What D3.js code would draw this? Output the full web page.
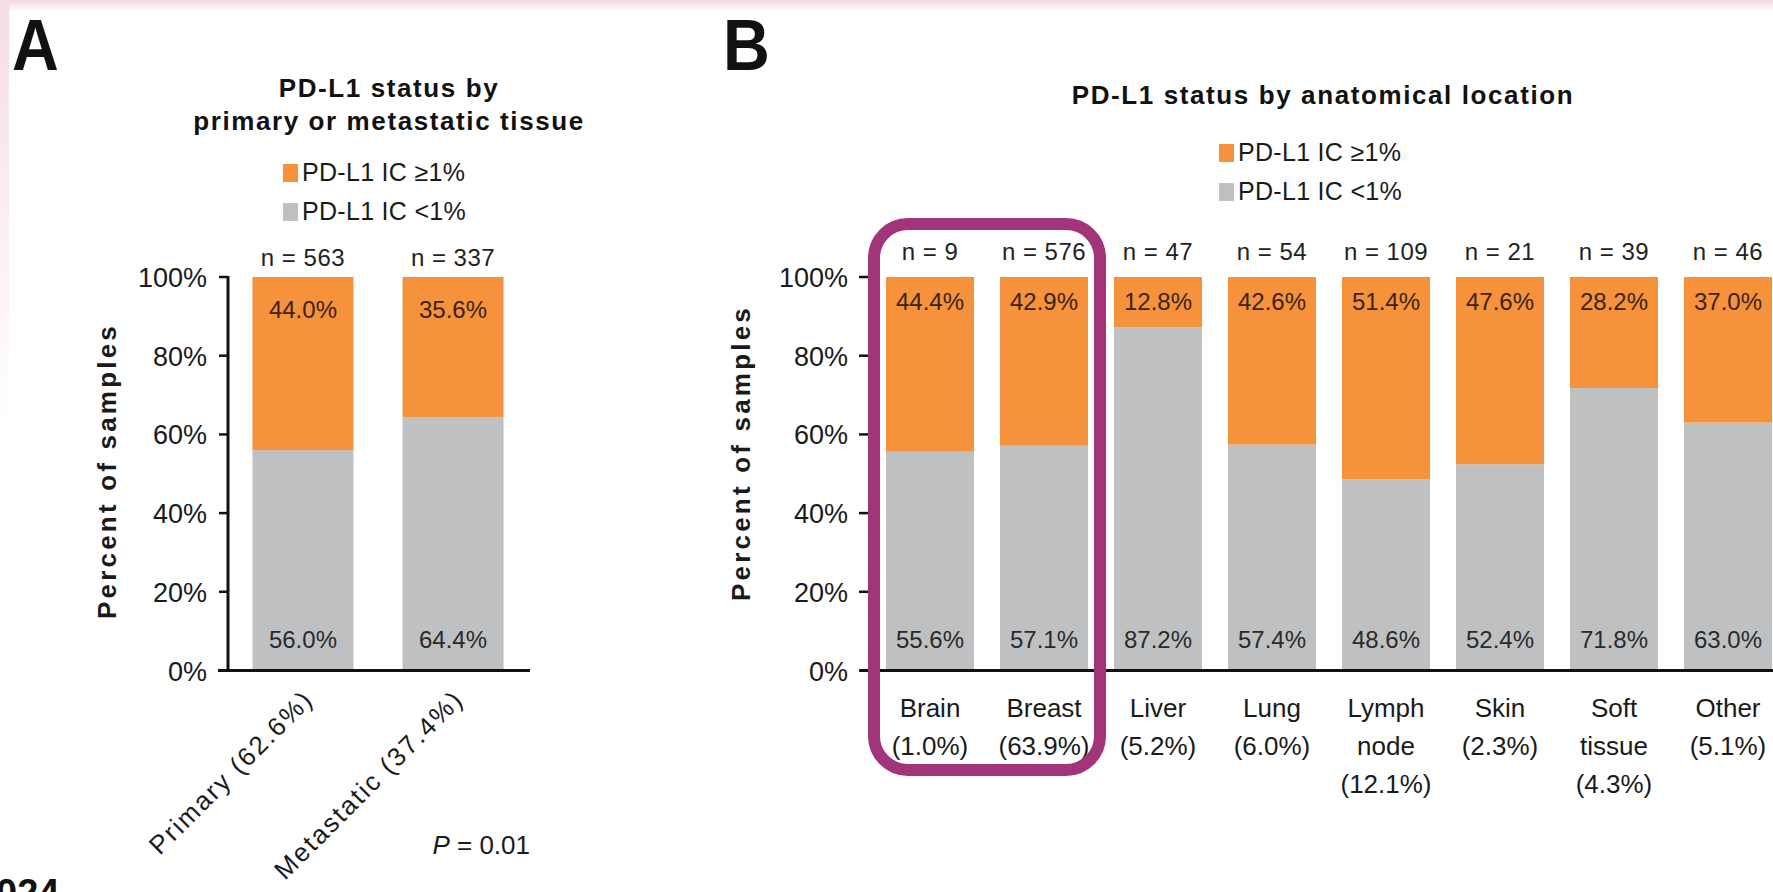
<!DOCTYPE html>
<html>
<head>
<meta charset="utf-8">
<script src="https://cdn.jsdelivr.net/npm/d3@7"></script>
<style>
  body { margin: 0; background: #fff; overflow: hidden; }
  text { font-family: "Liberation Sans", Arial, sans-serif; }
</style>
</head>
<body>
<div id="chart"></div>
<script>
// panel A: primary vs metastatic
var tissueLabels = ["Primary (62.6%)", "Metastatic (37.4%)"];
var tissueN = [563, 337];
var tissuePos = [44.0, 35.6];
var tissueNeg = [56.0, 64.4];

// panel B: anatomical location
var siteLabels = [["Brain", "(1.0%)"], ["Breast", "(63.9%)"], ["Liver", "(5.2%)"], ["Lung", "(6.0%)"],
  ["Lymph", "node", "(12.1%)"], ["Skin", "(2.3%)"], ["Soft", "tissue", "(4.3%)"], ["Other", "(5.1%)"]];
var siteN = [9, 576, 47, 54, 109, 21, 39, 46];
var sitePos = [44.4, 42.9, 12.8, 42.6, 51.4, 47.6, 28.2, 37.0];
var siteNeg = [55.6, 57.1, 87.2, 57.4, 48.6, 52.4, 71.8, 63.0];

var yTicks = [0, 20, 40, 60, 80, 100];
var legendLabels = ["PD-L1 IC \u22651%", "PD-L1 IC <1%"];

var width = 1773, height = 892;
var orange = "#f5923b", grey = "#bfc0c2";

var svg = d3.select("#chart").append("svg")
  .attr("width", width)
  .attr("height", height);

// faint pink frame like the scanned slide
var defs = svg.append("defs");
var gTop = defs.append("linearGradient").attr("id", "topfade").attr("x1", 0).attr("y1", 0).attr("x2", 0).attr("y2", 1);
gTop.append("stop").attr("offset", "0%").attr("stop-color", "#f3d6df");
gTop.append("stop").attr("offset", "100%").attr("stop-color", "#fff");
var gLeft = defs.append("linearGradient").attr("id", "leftfade").attr("x1", 0).attr("y1", 0).attr("x2", 0).attr("y2", 1);
gLeft.append("stop").attr("offset", "0%").attr("stop-color", "#f5dde5");
gLeft.append("stop").attr("offset", "100%").attr("stop-color", "#fff");
svg.append("rect").attr("x", 0).attr("y", 0).attr("width", width).attr("height", 12).attr("fill", "url(#topfade)");
svg.append("rect").attr("x", 0).attr("y", 0).attr("width", 9).attr("height", 420).attr("fill", "url(#leftfade)");

var y = d3.scaleLinear().domain([0, 100]).range([670.5, 277]);

function drawBars(g, x, names, pos, neg, n, opt) {
  var rows = names.map(function(d, i) { return {key: i, neg: neg[i], pos: pos[i]}; });
  var series = d3.stack().keys(["neg", "pos"])(rows);

  g.selectAll("g.layer").data(series).enter().append("g")
    .attr("class", "layer")
    .attr("fill", function(d) { return d.key == "pos" ? orange : grey; })
    .selectAll("rect").data(function(d) { return d; }).enter().append("rect")
      .attr("x", function(d) { return x(d.data.key); })
      .attr("y", function(d) { return y(d[1]); })
      .attr("width", x.bandwidth())
      .attr("height", function(d) { return y(d[0]) - y(d[1]); });

  var cx = function(i) { return x(i) + x.bandwidth() / 2; };

  // n = labels
  g.selectAll("text.n").data(n).enter().append("text")
    .attr("x", function(d, i) { return cx(i); })
    .attr("y", opt.nY)
    .attr("text-anchor", "middle")
    .attr("font-size", 24)
    .attr("letter-spacing", 0.5)
    .attr("fill", "#222")
    .text(function(d) { return "n = " + d; });

  g.selectAll("text.pos").data(pos).enter().append("text")
    .attr("x", function(d, i) { return cx(i); })
    .attr("y", opt.posY)
    .attr("text-anchor", "middle")
    .attr("font-size", 24)
    .attr("fill", "#3a2414")
    .text(function(d) { return d.toFixed(1) + "%"; });

  g.selectAll("text.neg").data(neg).enter().append("text")
    .attr("x", function(d, i) { return cx(i); })
    .attr("y", 648)
    .attr("text-anchor", "middle")
    .attr("font-size", 24)
    .attr("fill", "#2a2a2a")
    .text(function(d) { return d.toFixed(1) + "%"; });
}

function drawYAxis(g, axisX, labelRight, showLine) {
  g.selectAll("line.tick").data(yTicks).enter().append("line")
    .attr("x1", axisX - 9).attr("x2", axisX)
    .attr("y1", function(d) { return y(d); })
    .attr("y2", function(d) { return y(d); })
    .attr("stroke", "#111").attr("stroke-width", 2.5);
  g.selectAll("text.tick").data(yTicks).enter().append("text")
    .attr("x", labelRight)
    .attr("y", function(d) { return y(d) + 10; })
    .attr("text-anchor", "end")
    .attr("font-size", 27)
    .attr("fill", "#1a1a1a")
    .text(function(d) { return d + "%"; });
  if (showLine) {
    g.append("line")
      .attr("x1", axisX).attr("x2", axisX)
      .attr("y1", y(100) - 1).attr("y2", y(0))
      .attr("stroke", "#111").attr("stroke-width", 3);
  }
}

function drawLegend(g, lx, ly) {
  var colorsL = [orange, grey];
  legendLabels.forEach(function(lbl, i) {
    g.append("rect")
      .attr("x", lx).attr("y", ly + i * 39 - 17)
      .attr("width", 15).attr("height", 18)
      .attr("fill", colorsL[i]);
    g.append("text")
      .attr("x", lx + 19).attr("y", ly + i * 39)
      .attr("font-size", 25)
      .attr("letter-spacing", 0.3)
      .attr("fill", "#1a1a1a")
      .text(lbl);
  });
}

function yTitle(g, tx, ty) {
  g.append("text")
    .attr("transform", "translate(" + tx + "," + ty + ") rotate(-90)")
    .attr("text-anchor", "middle")
    .attr("font-size", 26)
    .attr("font-weight", "bold")
    .attr("letter-spacing", 3.2)
    .attr("fill", "#1a1a1a")
    .text("Percent of samples");
}

// ---------- panel A ----------
var gA = svg.append("g");
gA.append("text").attr("x", 12 / 0.9).attr("y", 70)
  .attr("font-size", 72).attr("font-weight", "bold").attr("fill", "#111")
  .attr("transform", "scale(0.9,1)")
  .text("A");

gA.append("text").attr("x", 389).attr("y", 97)
  .attr("text-anchor", "middle").attr("font-size", 26).attr("font-weight", "bold")
  .attr("letter-spacing", 1.6).attr("fill", "#111")
  .text("PD-L1 status by");
gA.append("text").attr("x", 389).attr("y", 130)
  .attr("text-anchor", "middle").attr("font-size", 26).attr("font-weight", "bold")
  .attr("letter-spacing", 1.6).attr("fill", "#111")
  .text("primary or metastatic tissue");

drawLegend(gA, 283, 181);

var xA = d3.scaleBand().domain(d3.range(tissueLabels.length))
  .range([228, 528]).paddingInner(0.327).paddingOuter(0.163);

drawBars(gA, xA, tissueLabels, tissuePos, tissueNeg, tissueN, {nY: 266, posY: 318});
drawYAxis(gA, 228, 207, true);
gA.append("line")
  .attr("x1", 218).attr("x2", 530)
  .attr("y1", y(0)).attr("y2", y(0))
  .attr("stroke", "#111").attr("stroke-width", 3);
yTitle(gA, 116, 471);

gA.selectAll("text.xl").data(tissueLabels).enter().append("text")
  .attr("transform", function(d, i) {
    return "translate(" + (xA(i) + xA.bandwidth() / 2 + 12) + "," + 701 + ") rotate(-45)";
  })
  .attr("text-anchor", "end")
  .attr("font-size", 26)
  .attr("letter-spacing", 2.1)
  .attr("fill", "#1a1a1a")
  .text(function(d) { return d; });

var pText = gA.append("text").attr("x", 530).attr("y", 854)
  .attr("text-anchor", "end").attr("font-size", 26).attr("fill", "#1a1a1a");
pText.append("tspan").attr("font-style", "italic").text("P");
pText.append("tspan").text(" = 0.01");

// cropped footer text at the very bottom, as in the source slide
svg.append("text").attr("x", -4).attr("y", 906)
  .attr("font-size", 38).attr("font-weight", "bold").attr("fill", "#111")
  .text("024");

// ---------- panel B ----------
var gB = svg.append("g");
gB.append("text").attr("x", 723 / 0.9).attr("y", 70)
  .attr("font-size", 72).attr("font-weight", "bold").attr("fill", "#111")
  .attr("transform", "scale(0.9,1)")
  .text("B");

gB.append("text").attr("x", 1323).attr("y", 104)
  .attr("text-anchor", "middle").attr("font-size", 26).attr("font-weight", "bold")
  .attr("letter-spacing", 1.6).attr("fill", "#111")
  .text("PD-L1 status by anatomical location");

drawLegend(gB, 1219, 161);

var xB = d3.scaleBand().domain(d3.range(siteN.length))
  .range([873, 1785]).paddingInner(0.228).paddingOuter(0.114);

drawBars(gB, xB, siteLabels, sitePos, siteNeg, siteN, {nY: 260, posY: 310});
drawYAxis(gB, 868, 848, false);
gB.append("line")
  .attr("x1", 860).attr("x2", width)
  .attr("y1", y(0)).attr("y2", y(0))
  .attr("stroke", "#111").attr("stroke-width", 3);
yTitle(gB, 750, 453);

var xl = gB.selectAll("text.xl").data(siteLabels).enter().append("text")
  .attr("text-anchor", "middle")
  .attr("font-size", 26)
  .attr("fill", "#1a1a1a");
xl.selectAll("tspan").data(function(d, i) { return d.map(function(s) { return {s: s, i: i}; }); })
  .enter().append("tspan")
    .attr("x", function(d) { return xB(d.i) + xB.bandwidth() / 2; })
    .attr("y", function(d, j) { return 717 + j * 38; })
    .text(function(d) { return d.s; });

// highlight box around Brain and Breast
gB.append("rect")
  .attr("x", xB(0) - 12)
  .attr("y", y(100) - 53)
  .attr("width", xB(1) + xB.bandwidth() - xB(0) + 24)
  .attr("height", 546)
  .attr("rx", 34).attr("ry", 34)
  .attr("fill", "none")
  .attr("stroke", "#a2357a")
  .attr("stroke-width", 12);
</script>
</body>
</html>
